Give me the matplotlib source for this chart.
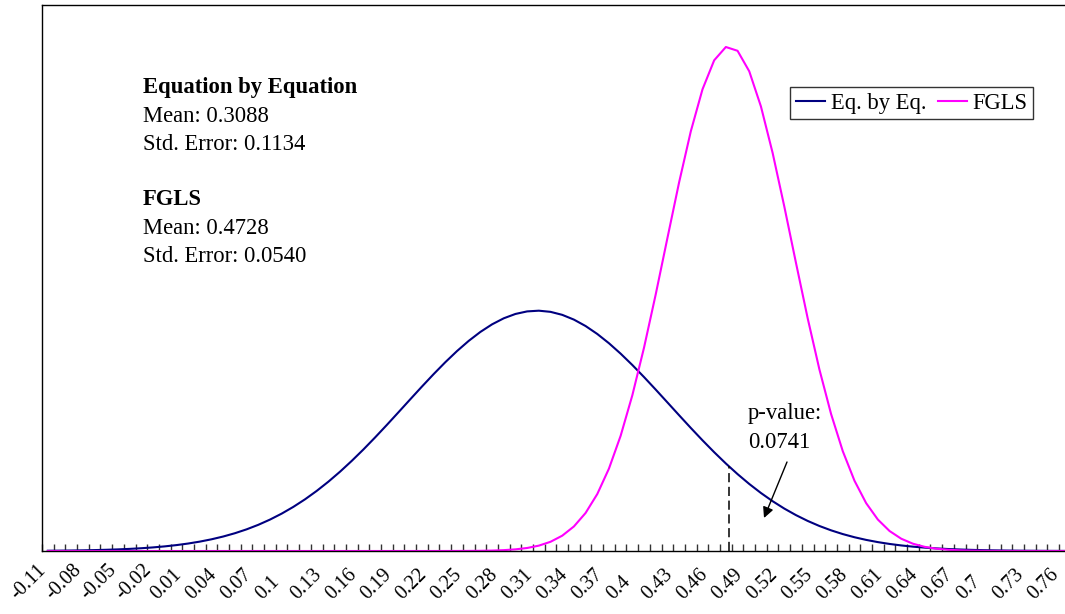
import numpy as np
import matplotlib
matplotlib.use("Agg")
import matplotlib.pyplot as plt
from matplotlib.ticker import FixedLocator
from matplotlib.transforms import ScaledTranslation

plt.rcParams["font.family"] = ["Liberation Serif", "DejaVu Serif"]

# category axis: -0.11 ... 0.77 in steps of 0.01
categories = np.round(np.arange(-11, 78) / 100.0, 2)

# density of the equation-by-equation estimate
eq_by_eq = [
    0.0038, 0.0053, 0.0073, 0.0099, 0.0133, 0.0178, 0.0236, 0.0310, 0.0406, 0.0526,
    0.0676, 0.0863, 0.1093, 0.1374, 0.1713, 0.2119, 0.2602, 0.3169, 0.3831, 0.4596,
    0.5469, 0.6458, 0.7566, 0.8798, 1.0150, 1.1618, 1.3198, 1.4873, 1.6634, 1.8457,
    2.0322, 2.2203, 2.4069, 2.5891, 2.7635, 2.9266, 3.0755, 3.2069, 3.3180, 3.4064,
    3.4700, 3.5074, 3.5178, 3.5009, 3.4571, 3.3873, 3.2933, 3.1771, 3.0412, 2.8886,
    2.7225, 2.5460, 2.3624, 2.1752, 1.9873, 1.8015, 1.6205, 1.4463, 1.2808, 1.1256,
    0.9815, 0.8491, 0.7290, 0.6209, 0.5249, 0.4402, 0.3663, 0.3025, 0.2479, 0.2015,
    0.1626, 0.1302, 0.1034, 0.0815, 0.0637, 0.0494, 0.0381, 0.0291, 0.0221, 0.0166,
    0.0124, 0.0092, 0.0067, 0.0049, 0.0036, 0.0026, 0.0018, 0.0013, 0.0009,
]

# density of the FGLS estimate
fgls = [
    0.0, 0.0, 0.0, 0.0, 0.0, 0.0, 0.0, 0.0, 0.0, 0.0,
    0.0, 0.0, 0.0, 0.0, 0.0, 0.0, 0.0, 0.0, 0.0, 0.0,
    0.0, 0.0, 0.0, 0.0, 0.0, 0.0, 0.0, 0.0, 0.0, 0.0,
    0.0,
    0.0000, 0.0001, 0.0001, 0.0003, 0.0007, 0.0015, 0.0031, 0.0064, 0.0126, 0.0240,
    0.0441, 0.0785, 0.1348, 0.2239, 0.3591, 0.5566, 0.8336, 1.2066, 1.6872, 2.2800,
    2.9775, 3.7568, 4.5804, 5.3964, 6.1432, 6.7577, 7.1831, 7.3778, 7.3223, 7.0223,
    6.5076, 5.8274, 5.0421, 4.2157, 3.4058, 2.6589, 2.0057, 1.4620, 1.0297, 0.7006,
    0.4608, 0.2929, 0.1799, 0.1067, 0.0612, 0.0339, 0.0181, 0.0094, 0.0047, 0.0023,
    0.0011, 0.0005, 0.0002, 0.0001, 0.0, 0.0, 0.0, 0.0,
]

tick_labels = [
    "-0.11", "-0.08", "-0.05", "-0.02", "0.01", "0.04", "0.07", "0.1", "0.13", "0.16",
    "0.19", "0.22", "0.25", "0.28", "0.31", "0.34", "0.37", "0.4", "0.43", "0.46",
    "0.49", "0.52", "0.55", "0.58", "0.61", "0.64", "0.67", "0.7", "0.73", "0.76",
]

eq_mean, eq_se = 0.3088, 0.1134
fgls_mean, fgls_se = 0.4728, 0.0540
p_value = 0.0741

W, H = 1065, 614
fig = plt.figure(figsize=(W / 100, H / 100), dpi=100)
n = len(categories)
step_px = 11.69
left_px, top_px, bottom_px = 42, 4.5, 551
ax = fig.add_axes([left_px / W, 1 - bottom_px / H,
                   n * step_px / W, (bottom_px - top_px) / H])

idx = np.arange(n)
ax.plot(idx, eq_by_eq, color="#000080", lw=1.5, label="Eq. by Eq.", solid_joinstyle="round")
ax.plot(idx, fgls, color="#FF00FF", lw=1.5, label="FGLS", solid_joinstyle="round")

# dashed marker at the FGLS mean, up to the equation-by-equation density
x_mean = np.interp(fgls_mean, categories, idx)
h_mean = np.interp(fgls_mean, categories, eq_by_eq)
ax.plot([x_mean, x_mean], [0, h_mean], color="black", lw=1.1, ls=(0, (6, 3)))

ax.set_xlim(-0.5, n - 0.5)
ax.set_ylim(0, 8)
ax.set_yticks([])

# tick marks between categories, labels every third category
ax.xaxis.set_major_locator(FixedLocator(idx[::3]))
ax.set_xticklabels([])
ax.xaxis.set_minor_locator(FixedLocator(np.arange(n + 1) - 0.5))
ax.tick_params(axis="x", which="major", length=0)
ax.tick_params(axis="x", which="minor", length=5, direction="in", color="#333333", width=1.0)

label_offset = ScaledTranslation(-31 / 100, -49 / 100, fig.dpi_scale_trans)
for pos, lbl in zip(idx[::3], tick_labels):
    ax.text(pos, 0, lbl, transform=ax.get_xaxis_transform() + label_offset,
            rotation=45, rotation_mode="anchor", ha="left", va="baseline",
            fontsize=14.5, clip_on=False)

for s in ax.spines.values():
    s.set_color("black")
    s.set_linewidth(1.0)

fs = 16.3
leg = fig.legend(loc="upper left", bbox_to_anchor=(790 / W, 1 - 87 / H),
                 ncol=2, frameon=True, fancybox=False, fontsize=fs, handlelength=1.3,
                 handletextpad=0.25, columnspacing=0.5, borderpad=0.25, borderaxespad=0)
leg.get_frame().set_edgecolor("black")
leg.get_frame().set_linewidth(1.0)


def fy(y):
    return 1 - y / H


fig.text(143 / W, fy(88), "Equation by Equation", fontsize=fs, weight="bold", va="center")
fig.text(143 / W, fy(116), f"Mean: {eq_mean:.4f}", fontsize=fs, va="center")
fig.text(143 / W, fy(144), f"Std. Error: {eq_se:.4f}", fontsize=fs, va="center")
fig.text(143 / W, fy(200), "FGLS", fontsize=fs, weight="bold", va="center")
fig.text(143 / W, fy(229), f"Mean: {fgls_mean:.4f}", fontsize=fs, va="center")
fig.text(143 / W, fy(257), f"Std. Error: {fgls_se:.4f}", fontsize=fs, va="center")

fig.text(748 / W, fy(413), "p-value:", fontsize=fs, va="center")
fig.text(748 / W, fy(442), f"{p_value:.4f}", fontsize=fs, va="center")

ax.annotate("", xy=(764 / W, fy(518)), xytext=(787 / W, fy(462)),
            xycoords="figure fraction", textcoords="figure fraction",
            arrowprops=dict(arrowstyle="-|>", color="black", lw=1.0, mutation_scale=16,
                            shrinkA=0, shrinkB=0))

fig.savefig("out.png", dpi=100)
